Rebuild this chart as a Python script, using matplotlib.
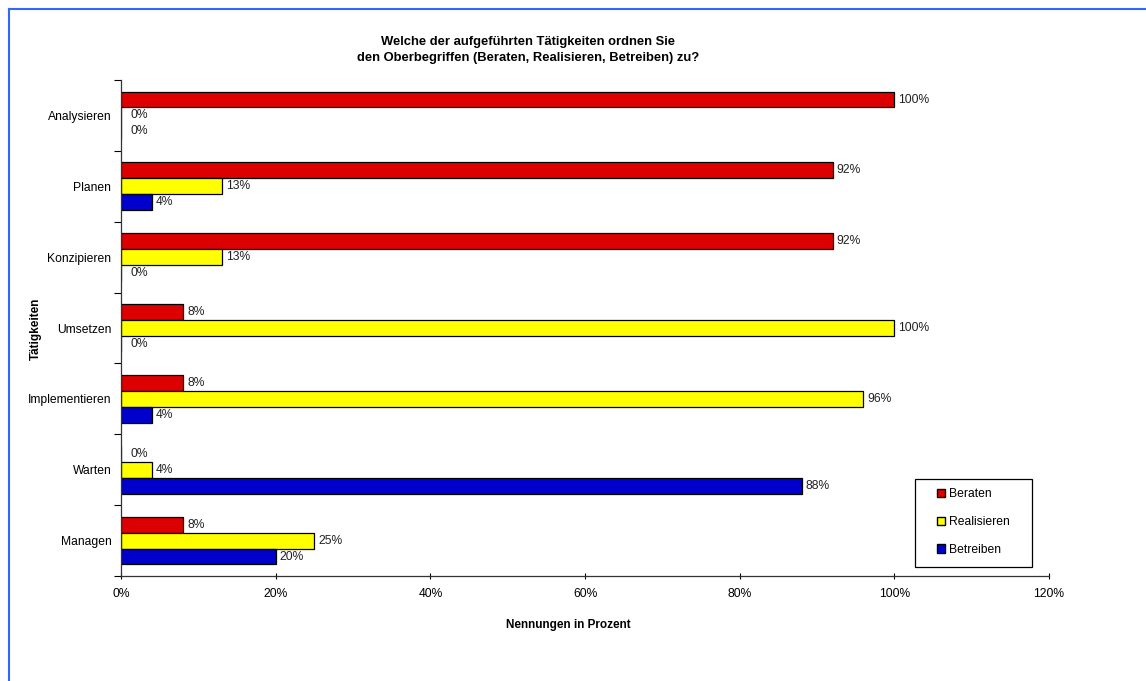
import numpy as np
import matplotlib.pyplot as plt
from matplotlib.lines import Line2D

plt.rcParams["font.family"] = ["Liberation Sans", "DejaVu Sans"]

categories = ["Analysieren", "Planen", "Konzipieren", "Umsetzen",
              "Implementieren", "Warten", "Managen"]
series = ["Beraten", "Realisieren", "Betreiben"]
beraten = [100, 92, 92, 8, 8, 0, 8]
realisieren = [0, 13, 13, 100, 96, 4, 25]
betreiben = [0, 4, 0, 0, 4, 88, 20]
colors = ["#DD0000", "#FFFF00", "#0000CC"]
xticks = [0, 20, 40, 60, 80, 100, 120]


def main():
    fig = plt.figure(figsize=(11.46, 6.81), dpi=100)
    ax = fig.add_axes([0.1056, 0.1542, 0.8098, 0.7283])

    y = np.arange(len(categories))
    h = 0.225
    for i, (vals, col, name) in enumerate(zip([beraten, realisieren, betreiben], colors, series)):
        bars = ax.barh(y + (i - 1) * h, vals, height=h, color=col,
                       edgecolor="black", linewidth=0.9, label=name)
        for b, v in zip(bars, vals):
            ax.annotate(f"{v}%", (v, b.get_y() + b.get_height() / 2),
                        xytext=(3 if v > 0 else 7, 0), textcoords="offset points",
                        ha="left", va="center", fontsize=8.7, color="#222222")

    ax.set_xlim(0, 120)
    ax.set_ylim(len(categories) - 0.5, -0.5)
    ax.set_xticks(xticks)
    ax.set_xticklabels([f"{t}%" for t in xticks], fontsize=8.7)
    ax.tick_params(axis="x", direction="inout", length=5, width=0.8, pad=6)

    ax.set_yticks(np.arange(len(categories) + 1) - 0.5)
    ax.set_yticklabels([])
    ax.tick_params(axis="y", which="major", direction="out", length=5, width=0.8)
    ax.set_yticks(y, minor=True)
    ax.set_yticklabels(categories, minor=True, fontsize=8.7)
    ax.tick_params(axis="y", which="minor", length=0, pad=7)

    for s in ["top", "right"]:
        ax.spines[s].set_visible(False)
    for s in ["left", "bottom"]:
        ax.spines[s].set_color("#333333")
        ax.spines[s].set_linewidth(0.9)

    fig.text(0.461, 0.9266, "Welche der aufgeführten Tätigkeiten ordnen Sie\n"
             "den Oberbegriffen (Beraten, Realisieren, Betreiben) zu?",
             ha="center", va="center", fontsize=9.4, fontweight="bold",
             linespacing=1.4)
    fig.text(0.496, 0.082, "Nennungen in Prozent", ha="center", va="center",
             fontsize=8.5, fontweight="bold")
    fig.text(0.031, 0.517, "Tätigkeiten", ha="center", va="center",
             rotation=90, fontsize=8.5, fontweight="bold")

    # legend: separate box, entries placed inside without frame
    ax.add_patch(plt.Rectangle((0.8556, 0.0181), 0.1261, 0.1774, transform=ax.transAxes,
                               facecolor="white", edgecolor="black", linewidth=0.9,
                               clip_on=False, zorder=5))
    handles = [plt.Rectangle((0, 0), 1, 1, facecolor=c, edgecolor="black", linewidth=1)
               for c in colors]
    leg = ax.legend(handles, series, loc="center left", bbox_to_anchor=(0.879, 0.1089),
                    fontsize=8.7, frameon=False, handlelength=0.7,
                    handleheight=0.7, handletextpad=0.3, labelspacing=1.3,
                    borderpad=0, borderaxespad=0)
    leg.set_zorder(6)

    # blue frame along top and left edges
    fig.add_artist(Line2D([9 / 1146, 1], [1 - 9 / 681, 1 - 9 / 681],
                          color="#3366FF", linewidth=1.5))
    fig.add_artist(Line2D([9 / 1146, 9 / 1146], [0, 1 - 9 / 681],
                          color="#3366FF", linewidth=1.5))

    fig.savefig("out.png", dpi=100)


if __name__ == "__main__":
    main()
